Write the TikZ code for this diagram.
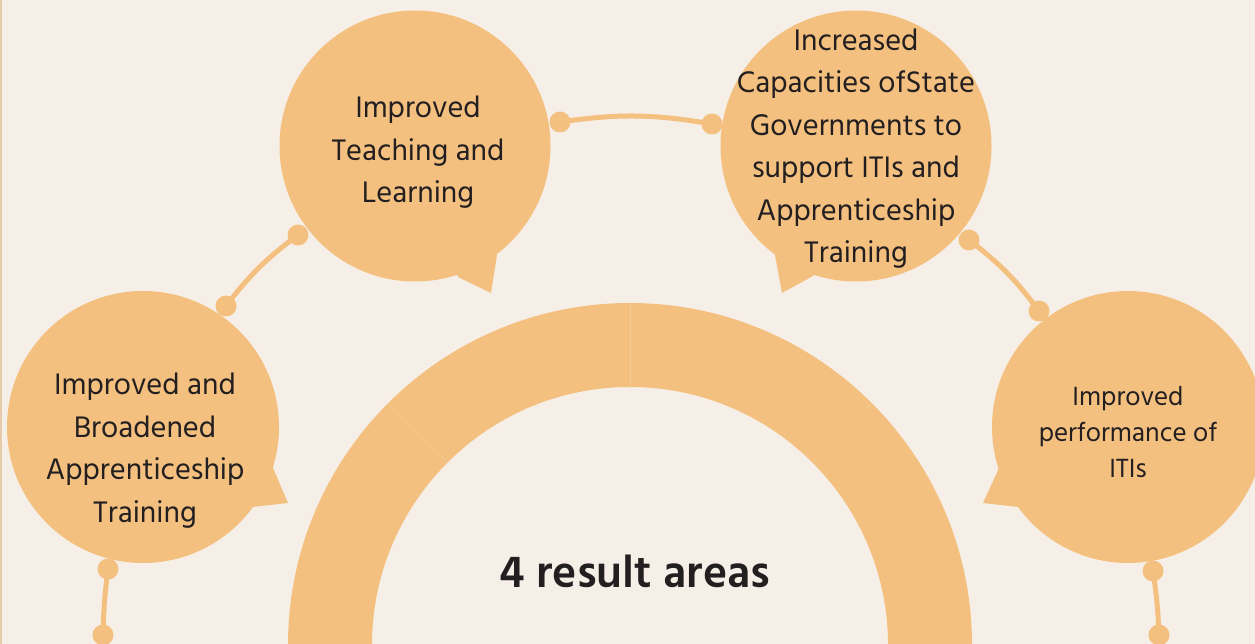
\documentclass[tikz,border=0pt]{standalone}
\usepackage{fontspec}
\setmainfont{Hind Madurai}
\definecolor{paper}{HTML}{F6EFE7}
\definecolor{peach}{HTML}{F4C080}
\definecolor{seam}{HTML}{F5CD97}
\definecolor{rim}{HTML}{E6CBAA}
\definecolor{ink}{HTML}{231F20}
\begin{document}
\begin{tikzpicture}[x=1pt,y=-1pt,line cap=round,line join=round,
  bubble/.style={circle,fill=peach,inner sep=0pt},
  label/.style={align=center,text=ink,inner sep=0pt,font=\fontsize{30.5}{42.5}\selectfont},
  link/.style={draw=peach,line width=5pt},
  dot/.style={fill=peach}]
  \useasboundingbox (0,0) rectangle (1255,644);
  \clip (0,0) rectangle (1255,644);
  \fill[paper] (0,0) rectangle (1255,644);
  \fill[rim] (0,0) rectangle (2,644);
  % the ring
  \fill[peach,even odd rule] (630,645) circle[radius=342pt] (630,645) circle[radius=258pt];
  \draw[seam,line width=0.6pt] (630,387) -- (630,303);
  \draw[seam,line width=0.6pt] (447.6,462.6) -- (388.2,403.2);
  \draw[seam,line width=0.6pt] (812.4,462.6) -- (871.8,403.2);
  \node[font=\bfseries\fontsize{46}{52}\selectfont,text=ink,inner sep=0pt] (areas) at (635,571) {4 result areas};
  % bubbles
  \node[bubble,minimum size=272pt] (appr) at (143,427) {};
  \node[bubble,minimum size=271pt] (teach) at (415,146) {};
  \node[bubble,minimum size=271pt] (state) at (856,146) {};
  \node[bubble,minimum size=272pt] (perf) at (1128,427) {};
  \fill[peach] ([shift={(130,41)}]appr.center) -- ([shift={(145,76)}]appr.center) -- ([shift={(109,80)}]appr.center) -- (appr.center) -- cycle;
  \fill[peach] ([shift={(82,109)}]teach.center) -- ([shift={(76,147)}]teach.center) -- ([shift={(43,131)}]teach.center) -- (teach.center) -- cycle;
  \fill[peach] ([shift={(-81,109)}]state.center) -- ([shift={(-74,147)}]state.center) -- ([shift={(-43,130)}]state.center) -- (state.center) -- cycle;
  \fill[peach] ([shift={(-129,41)}]perf.center) -- ([shift={(-145,76)}]perf.center) -- ([shift={(-110,80)}]perf.center) -- (perf.center) -- cycle;
  \node[label] (appr-t) at (145,450.5) {Improved and\\Broadened\\Apprenticeship\\Training};
  \node[label] (teach-t) at (418,152.5) {Improved\\Teaching and\\Learning};
  \node[label] (state-t) at (856,148.5) {Increased\\Capacities ofState\\Governments to\\support ITIs and\\Apprenticeship\\Training};
  \node[label,font=\fontsize{27}{36}\selectfont] (perf-t) at (1128,432) {Improved\\performance of\\ITIs};
  % connectors
  \coordinate (a1) at (226,306);
  \coordinate (a2) at (298,235);
  \coordinate (b1) at (560,122);
  \coordinate (b2) at (712,124);
  \coordinate (c1) at (969,240);
  \coordinate (c2) at (1039,311);
  \coordinate (d1) at (108,569);
  \coordinate (d2) at (103,635);
  \coordinate (e1) at (1153,571);
  \coordinate (e2) at (1159,635);
  \draw[link] (a1) to[bend left=8] (a2);
  \draw[link] (b1) to[bend left=9] (b2);
  \draw[link] (c1) to[bend left=8] (c2);
  \draw[link] (d1) to[bend right=3] (d2);
  \draw[link] (e1) to[bend left=3] (e2);
  \foreach \p in {a1,a2,b1,b2,c1,c2,d1,d2,e1,e2}
    \fill[dot] (\p) circle[radius=10.5pt];
\end{tikzpicture}
\end{document}
